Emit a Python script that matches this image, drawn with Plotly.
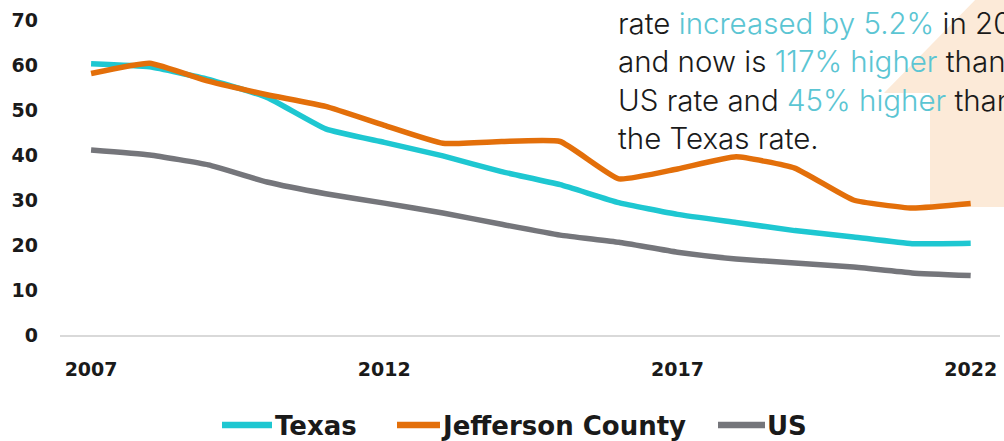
import plotly.graph_objects as go

years = list(range(2007, 2023))
texas = [60.3, 59.6, 56.8, 52.8, 45.8, 42.8, 39.8, 36.3, 33.4, 29.4, 26.8, 25.0, 23.2, 21.8, 20.3, 20.4]
jefferson = [58.1, 60.4, 56.4, 53.4, 50.8, 46.6, 42.6, 43.0, 43.0, 34.7, 36.9, 39.6, 37.1, 30.0, 28.2, 29.2]
us = [41.1, 40.0, 37.8, 34.0, 31.4, 29.3, 27.1, 24.6, 22.2, 20.6, 18.4, 16.9, 16.0, 15.1, 13.8, 13.2]

series_names = ["Texas", "Jefferson County", "US"]
series_values = [texas, jefferson, us]
series_colors = ["#1EC7D1", "#E36F0A", "#75767B"]

x_ticks = [2007, 2012, 2017, 2022]
y_ticks = [0, 10, 20, 30, 40, 50, 60, 70]

W, H = 1004, 441
L, R, T, B = 60, 4, 20, 106
pw, ph = W - L - R, H - T - B


def px(x):
    return (x - L) / pw


def py(y):
    return (H - B - y) / ph


fig = go.Figure()
for name, vals, col in zip(series_names, series_values, series_colors):
    fig.add_trace(go.Scatter(
        x=years, y=vals, name=name, mode="lines", showlegend=False,
        line=dict(color=col, width=5.5, shape="spline", smoothing=0.4),
    ))

# beige arrow in the background
arrow = [(884, 93), (978, -3), (1100, -3), (1100, 207), (930, 207), (930, 93)]
path = "M " + " L ".join(f"{px(a)},{py(b)}" for a, b in arrow) + " Z"
fig.add_shape(type="path", path=path, xref="paper", yref="paper",
              fillcolor="#FCEAD8", line=dict(width=0), layer="below")

# custom legend
leg_y = 425
leg_items = [(222, 272, 273), (397, 440, 439), (718, 765, 765)]
for (x0, x1, tx), name, col in zip(leg_items, series_names, series_colors):
    fig.add_shape(type="line", xref="paper", yref="paper",
                  x0=px(x0), x1=px(x1), y0=py(leg_y), y1=py(leg_y),
                  line=dict(color=col, width=6.5))
    fig.add_annotation(text=name, xref="paper", yref="paper", x=px(tx), y=py(leg_y + 1),
                       xanchor="left", yanchor="middle", showarrow=False,
                       font=dict(family="DejaVu Sans", size=26, color="#1A1A1A", weight="bold"))

hl = "#5BC5D3"
txt = (f"rate <span style='color:{hl}'>increased by 5.2%</span> in 2022<br>"
       f"and now is <span style='color:{hl}'>117% higher</span> than the<br>"
       f"US rate and <span style='color:{hl}'>45% higher</span> than<br>"
       f"the Texas rate.")
fig.add_annotation(text=txt, xref="paper", yref="paper", x=px(616), y=py(3),
                   xanchor="left", yanchor="top", align="left", showarrow=False,
                   font=dict(family="Inter", size=29.5, color="#1A1A1A", weight=300))

fig.update_layout(
    width=W, height=H,
    margin=dict(l=L, r=R, t=T, b=B),
    plot_bgcolor="white", paper_bgcolor="white",
    showlegend=False,
    font=dict(family="DejaVu Sans"),
)
fig.update_xaxes(range=[2006.47, 2022.5], tickvals=x_ticks, ticktext=[str(v) for v in x_ticks],
                 showgrid=False, zeroline=False, showline=True, linecolor="#D9D9D9", linewidth=1.5,
                 ticks="", ticklabelstandoff=16,
                 tickfont=dict(family="DejaVu Sans", size=19, color="#1A1A1A", weight="bold"))
fig.update_yaxes(range=[0, 70], tickvals=y_ticks, showgrid=False, zeroline=False, showline=False,
                 ticks="", ticklabelstandoff=21,
                 tickfont=dict(family="DejaVu Sans", size=19, color="#1A1A1A", weight="bold"))

fig.write_html("out.html", config={"displayModeBar": False},
               post_script="document.body.style.margin='0';document.body.style.overflow='hidden';")
